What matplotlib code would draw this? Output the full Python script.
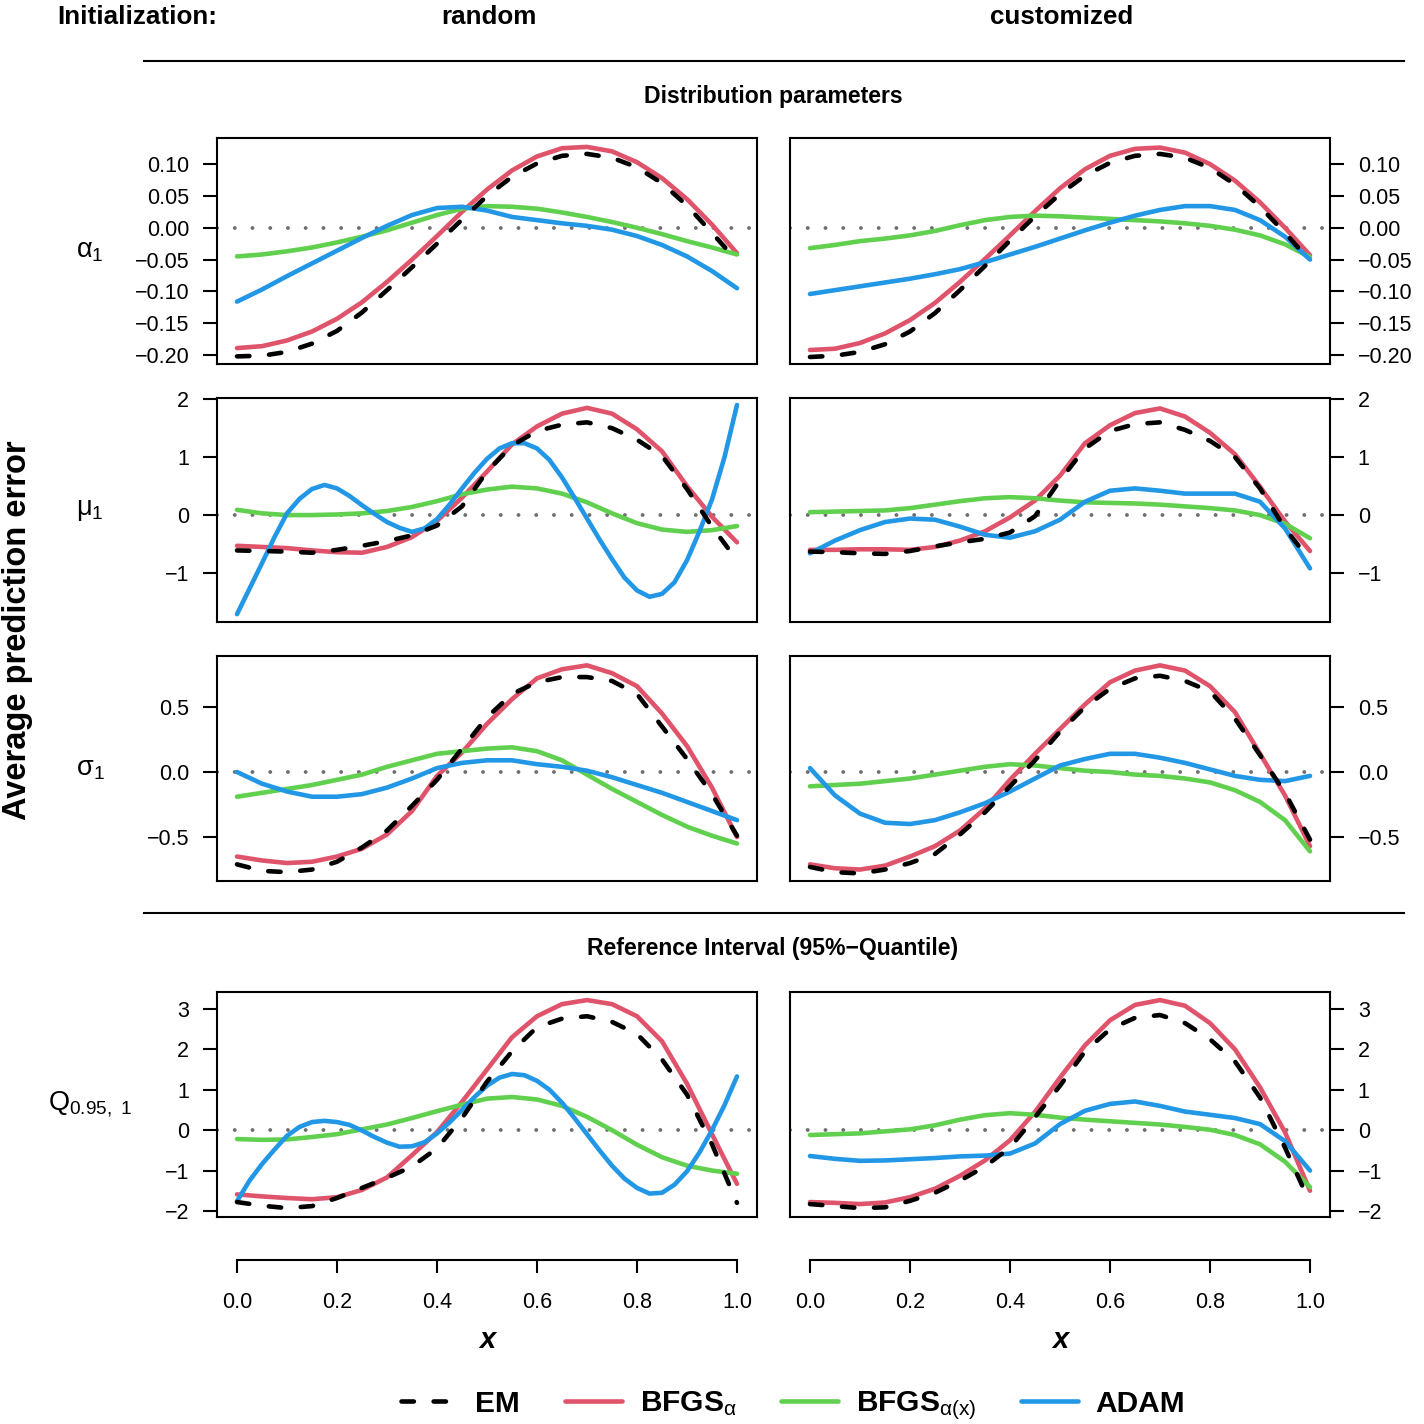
import numpy as np
import matplotlib
matplotlib.use('Agg')
import matplotlib.pyplot as plt
from matplotlib.lines import Line2D

plt.rcParams['font.family'] = ['Liberation Sans', 'DejaVu Sans']
plt.rcParams['mathtext.fontset'] = 'custom'
plt.rcParams['mathtext.rm'] = 'Liberation Sans'
plt.rcParams['mathtext.it'] = 'Liberation Sans:italic'
plt.rcParams['mathtext.bf'] = 'Liberation Sans:bold'

x_vals = [0.0, 0.05, 0.1, 0.15, 0.2, 0.25, 0.3, 0.35, 0.4, 0.45, 0.5,
          0.55, 0.6, 0.65, 0.7, 0.75, 0.8, 0.85, 0.9, 0.95, 1.0]
# finer grid used for the strongly oscillating ADAM curves
x_fine = [0.0, 0.025, 0.05, 0.075, 0.1, 0.125, 0.15, 0.175, 0.2, 0.225, 0.25,
          0.275, 0.3, 0.325, 0.35, 0.375, 0.4, 0.425, 0.45, 0.475, 0.5,
          0.525, 0.55, 0.575, 0.6, 0.625, 0.65, 0.675, 0.7, 0.725, 0.75,
          0.775, 0.8, 0.825, 0.85, 0.875, 0.9, 0.925, 0.95, 0.975, 1.0]

methods = ['EM', 'BFGS_a', 'BFGS_ax', 'ADAM']
legend_labels = ['EM', r'BFGS$_{\mathrm{\alpha}}$', r'BFGS$_{\mathrm{\alpha(x)}}$', 'ADAM']
colors = {'EM': 'black', 'BFGS_a': '#DF536B', 'BFGS_ax': '#61D04F', 'ADAM': '#2297E6'}

# --- alpha_1 ---
alpha_rand = {
    'EM': [-0.202, -0.201, -0.195, -0.182, -0.162, -0.133, -0.098, -0.062, -0.025, 0.013, 0.05,
           0.08, 0.101, 0.113, 0.116, 0.11, 0.095, 0.07, 0.035, -0.008, -0.052],
    'BFGS_a': [-0.189, -0.186, -0.177, -0.163, -0.143, -0.117, -0.085, -0.05, -0.013, 0.025, 0.06,
               0.09, 0.112, 0.125, 0.127, 0.12, 0.103, 0.078, 0.045, 0.005, -0.04],
    'BFGS_ax': [-0.045, -0.042, -0.037, -0.031, -0.023, -0.014, -0.004, 0.008, 0.02, 0.03, 0.034,
                0.033, 0.03, 0.024, 0.017, 0.009, 0.0, -0.01, -0.021, -0.031, -0.042],
    'ADAM': [-0.116, -0.097, -0.076, -0.056, -0.036, -0.016, 0.003, 0.02, 0.031, 0.033, 0.027,
             0.017, 0.012, 0.007, 0.003, -0.003, -0.013, -0.027, -0.045, -0.068, -0.095],
}
alpha_cust = {
    'EM': [-0.203, -0.201, -0.195, -0.183, -0.163, -0.134, -0.098, -0.06, -0.02, 0.018, 0.053,
           0.082, 0.102, 0.113, 0.116, 0.11, 0.094, 0.068, 0.033, -0.008, -0.052],
    'BFGS_a': [-0.192, -0.19, -0.181, -0.166, -0.145, -0.118, -0.085, -0.049, -0.012, 0.026, 0.062,
               0.092, 0.113, 0.124, 0.126, 0.118, 0.1, 0.074, 0.04, 0.0, -0.043],
    'BFGS_ax': [-0.032, -0.027, -0.021, -0.017, -0.012, -0.005, 0.004, 0.012, 0.017, 0.019, 0.018,
                0.016, 0.014, 0.012, 0.01, 0.007, 0.003, -0.003, -0.012, -0.026, -0.046],
    'ADAM': [-0.104, -0.098, -0.092, -0.086, -0.08, -0.073, -0.065, -0.054, -0.042, -0.03, -0.017,
             -0.004, 0.008, 0.019, 0.028, 0.034, 0.034, 0.028, 0.012, -0.014, -0.05],
}

# --- mu_1 ---
mu_rand = {
    'EM': [-0.61, -0.62, -0.63, -0.65, -0.6, -0.53, -0.45, -0.35, -0.18, 0.15, 0.75,
           1.2, 1.45, 1.56, 1.6, 1.5, 1.3, 1.02, 0.45, -0.2, -0.78],
    'BFGS_a': [-0.53, -0.55, -0.57, -0.61, -0.64, -0.65, -0.55, -0.38, -0.1, 0.3, 0.75,
               1.22, 1.53, 1.75, 1.85, 1.75, 1.48, 1.1, 0.5, -0.03, -0.47],
    'BFGS_ax': [0.09, 0.03, 0.0, 0.0, 0.01, 0.03, 0.07, 0.14, 0.24, 0.36, 0.44,
                0.49, 0.46, 0.37, 0.22, 0.03, -0.14, -0.25, -0.29, -0.26, -0.19],
    'ADAM': [-1.71, -1.27, -0.83, -0.38, 0.03, 0.28, 0.45, 0.52, 0.46, 0.33, 0.17,
             0.02, -0.12, -0.22, -0.29, -0.23, -0.07, 0.18, 0.46, 0.73, 0.97,
             1.15, 1.24, 1.24, 1.15, 0.95, 0.65, 0.3, -0.06, -0.42, -0.76,
             -1.08, -1.3, -1.41, -1.36, -1.16, -0.78, -0.28, 0.27, 1.0, 1.9],
}
mu_cust = {
    'EM': [-0.63, -0.64, -0.66, -0.67, -0.62, -0.54, -0.47, -0.41, -0.3, -0.02, 0.6,
           1.15, 1.45, 1.57, 1.6, 1.47, 1.28, 1.0, 0.46, -0.23, -0.78],
    'BFGS_a': [-0.6, -0.6, -0.59, -0.59, -0.6, -0.55, -0.44, -0.28, -0.04, 0.25, 0.68,
               1.24, 1.55, 1.76, 1.84, 1.7, 1.42, 1.05, 0.49, -0.11, -0.62],
    'BFGS_ax': [0.05, 0.06, 0.07, 0.08, 0.12, 0.18, 0.24, 0.29, 0.31, 0.29, 0.25,
                0.22, 0.21, 0.2, 0.18, 0.15, 0.12, 0.08, 0.0, -0.15, -0.4],
    'ADAM': [-0.66, -0.44, -0.26, -0.12, -0.06, -0.08, -0.2, -0.34, -0.39, -0.28, -0.08,
             0.23, 0.42, 0.46, 0.42, 0.37, 0.37, 0.37, 0.23, -0.23, -0.92],
}

# --- sigma_1 ---
sigma_rand = {
    'EM': [-0.71, -0.76, -0.77, -0.75, -0.69, -0.58, -0.45, -0.26, -0.06, 0.18, 0.42,
           0.6, 0.69, 0.73, 0.73, 0.7, 0.6, 0.35, 0.1, -0.17, -0.49],
    'BFGS_a': [-0.65, -0.68, -0.7, -0.69, -0.65, -0.59, -0.48, -0.3, -0.03, 0.15, 0.37,
               0.56, 0.72, 0.79, 0.82, 0.76, 0.66, 0.45, 0.2, -0.12, -0.5],
    'BFGS_ax': [-0.19, -0.16, -0.13, -0.1, -0.06, -0.02, 0.04, 0.09, 0.14, 0.16, 0.18,
                0.19, 0.16, 0.09, -0.02, -0.13, -0.23, -0.33, -0.42, -0.49, -0.55],
    'ADAM': [0.0, -0.09, -0.15, -0.19, -0.19, -0.17, -0.12, -0.05, 0.03, 0.07, 0.09,
             0.09, 0.06, 0.04, 0.01, -0.04, -0.1, -0.16, -0.23, -0.3, -0.37],
}
sigma_cust = {
    'EM': [-0.73, -0.77, -0.78, -0.75, -0.7, -0.63, -0.48, -0.31, -0.11, 0.09, 0.31,
           0.5, 0.64, 0.72, 0.74, 0.7, 0.62, 0.41, 0.13, -0.16, -0.52],
    'BFGS_a': [-0.71, -0.74, -0.75, -0.72, -0.65, -0.57, -0.45, -0.28, -0.06, 0.14, 0.33,
               0.52, 0.69, 0.78, 0.82, 0.78, 0.66, 0.46, 0.14, -0.18, -0.57],
    'BFGS_ax': [-0.11, -0.1, -0.09, -0.07, -0.05, -0.02, 0.01, 0.04, 0.06, 0.05, 0.03,
                0.01, 0.0, -0.02, -0.03, -0.05, -0.08, -0.14, -0.23, -0.37, -0.61],
    'ADAM': [0.03, -0.18, -0.32, -0.39, -0.4, -0.37, -0.31, -0.24, -0.15, -0.05, 0.05,
             0.1, 0.14, 0.14, 0.11, 0.07, 0.02, -0.03, -0.06, -0.07, -0.03],
}

# --- Q_0.95,1 ---
q_rand = {
    'EM': [-1.78, -1.87, -1.93, -1.88, -1.68, -1.43, -1.18, -0.9, -0.45, 0.3, 1.2,
           1.95, 2.55, 2.76, 2.82, 2.68, 2.38, 1.75, 0.88, -0.35, -1.8],
    'BFGS_a': [-1.59, -1.64, -1.68, -1.71, -1.66, -1.48, -1.17, -0.62, -0.05, 0.7, 1.5,
               2.3, 2.82, 3.12, 3.22, 3.12, 2.82, 2.2, 1.15, -0.1, -1.33],
    'BFGS_ax': [-0.22, -0.24, -0.23, -0.17, -0.1, 0.02, 0.14, 0.3, 0.47, 0.63, 0.78,
                0.82, 0.76, 0.6, 0.33, 0.0, -0.36, -0.67, -0.88, -1.0, -1.08],
    'ADAM': [-1.76, -1.25, -0.84, -0.48, -0.14, 0.08, 0.2, 0.23, 0.2, 0.13, -0.01,
             -0.17, -0.31, -0.41, -0.4, -0.3, -0.08, 0.19, 0.5, 0.82, 1.1,
             1.3, 1.39, 1.36, 1.22, 1.0, 0.68, 0.3, -0.1, -0.5, -0.88,
             -1.2, -1.43, -1.57, -1.55, -1.35, -1.02, -0.55, 0.0, 0.62, 1.33],
}
q_cust = {
    'EM': [-1.83, -1.88, -1.93, -1.91, -1.75, -1.55, -1.25, -0.9, -0.43, 0.32, 1.1,
           1.95, 2.5, 2.78, 2.85, 2.65, 2.25, 1.7, 0.81, -0.43, -1.8],
    'BFGS_a': [-1.78, -1.8, -1.83, -1.79, -1.66, -1.45, -1.13, -0.75, -0.25, 0.45, 1.3,
               2.1, 2.72, 3.1, 3.22, 3.08, 2.65, 2.0, 1.06, -0.05, -1.5],
    'BFGS_ax': [-0.12, -0.1, -0.08, -0.03, 0.02, 0.12, 0.26, 0.37, 0.42, 0.38, 0.31,
                0.26, 0.22, 0.18, 0.14, 0.08, 0.01, -0.12, -0.35, -0.78, -1.41],
    'ADAM': [-0.64, -0.71, -0.76, -0.75, -0.72, -0.69, -0.65, -0.63, -0.58, -0.33, 0.15,
             0.48, 0.65, 0.71, 0.6, 0.46, 0.38, 0.3, 0.15, -0.27, -1.0],
}

row_data = [(alpha_rand, alpha_cust), (mu_rand, mu_cust),
            (sigma_rand, sigma_cust), (q_rand, q_cust)]
row_labels = [r'$\mathrm{\alpha}_1$', r'$\mathrm{\mu}_1$', r'$\mathrm{\sigma}_1$',
              r'$\mathrm{Q}_{0.95,\ 1}$']
row_ticks = [[-0.20, -0.15, -0.10, -0.05, 0.00, 0.05, 0.10],
             [-1, 0, 1, 2],
             [-0.5, 0.0, 0.5],
             [-2, -1, 0, 1, 2, 3]]
row_ticklabels = [['−0.20', '−0.15', '−0.10', '−0.05', '0.00', '0.05', '0.10'],
                  ['−1', '0', '1', '2'],
                  ['−0.5', '0.0', '0.5'],
                  ['−2', '−1', '0', '1', '2', '3']]
row_ylims = [(-0.214, 0.141), (-1.845, 2.02), (-0.838, 0.892), (-2.15, 3.42)]
x_ticks = [0.0, 0.2, 0.4, 0.6, 0.8, 1.0]
x_ticklabels = ['0.0', '0.2', '0.4', '0.6', '0.8', '1.0']

W = 1424.0
fig = plt.figure(figsize=(14.24, 14.24), dpi=100)


def px_axes(x0, y0, x1, y1):
    return fig.add_axes([x0 / W, 1 - y1 / W, (x1 - x0) / W, (y1 - y0) / W])


col_px = [(217, 757), (790, 1330)]
row_px = [(138, 364), (398, 622), (656, 881), (992, 1217)]
tick_fs = 15.5
LW = 3.3
EM_DASH = (2.7, 4.3)
draw_order = ['BFGS_a', 'BFGS_ax', 'ADAM', 'EM']

for r, (y0, y1) in enumerate(row_px):
    for c, (x0, x1) in enumerate(col_px):
        ax = px_axes(x0, y0, x1, y1)
        data = row_data[r][c]
        ax.axhline(0, color='#6e6e6e', lw=2.8, dashes=(0.01, 4.55),
                   dash_capstyle='round', zorder=1)
        for m in draw_order:
            yv = data[m]
            xv = x_fine if len(yv) == len(x_fine) else x_vals
            if m == 'EM':
                ax.plot(xv, yv, color='black', lw=LW, dashes=EM_DASH,
                        dash_capstyle='round', zorder=4)
            else:
                ax.plot(xv, yv, color=colors[m], lw=LW,
                        solid_capstyle='round', solid_joinstyle='round', zorder=3)
        ax.set_xlim(-0.04, 1.04)
        ax.set_ylim(*row_ylims[r])
        ax.set_xticks([])
        ax.set_yticks(row_ticks[r])
        ax.set_yticklabels(row_ticklabels[r], fontsize=tick_fs)
        if c == 1:
            ax.yaxis.tick_right()
        ax.tick_params(axis='y', length=10, width=1.5, pad=10)
        for s in ax.spines.values():
            s.set_linewidth(1.5)
    fig.text(90 / W, 1 - (row_px[r][0] + row_px[r][1]) / 2 / W, row_labels[r],
             fontsize=19.5, ha='center', va='center')

# separate x axes below the panels
for c, (x0, x1) in enumerate(col_px):
    bx = px_axes(x0, 1250, x1, 1260)
    bx.set_xlim(-0.04, 1.04)
    bx.set_yticks([])
    for side in ['top', 'left', 'right']:
        bx.spines[side].set_visible(False)
    bx.spines['bottom'].set_bounds(0, 1)
    bx.spines['bottom'].set_linewidth(1.5)
    bx.patch.set_visible(False)
    bx.set_xticks(x_ticks)
    bx.set_xticklabels(x_ticklabels, fontsize=tick_fs)
    bx.tick_params(axis='x', length=9, width=1.5, pad=14)
    fig.text((x0 + x1) / 2 / W, 1 - 1340 / W, 'x', fontsize=21, fontweight='bold',
             fontstyle='italic', ha='center', va='center')

# headers
fig.text(57 / W, 1 - 17 / W, 'Initialization:', fontsize=18.7, fontweight='bold',
         ha='left', va='center')
fig.text(489 / W, 1 - 17 / W, 'random', fontsize=18.7, fontweight='bold',
         ha='center', va='center')
fig.text(1062 / W, 1 - 17 / W, 'customized', fontsize=18.7, fontweight='bold',
         ha='center', va='center')
fig.add_artist(Line2D([144 / W, 1404 / W], [1 - 61 / W, 1 - 61 / W], color='black', lw=1.5))
fig.add_artist(Line2D([144 / W, 1404 / W], [1 - 913 / W, 1 - 913 / W], color='black', lw=1.5))
fig.text(773 / W, 1 - 96 / W, 'Distribution parameters', fontsize=16.6, fontweight='bold',
         ha='center', va='center')
fig.text(773 / W, 1 - 949 / W, 'Reference Interval (95%−Quantile)', fontsize=16.6,
         fontweight='bold', ha='center', va='center')
fig.text(18 / W, 1 - 630 / W, 'Average prediction error', fontsize=23.5, fontweight='bold',
         rotation=90, ha='center', va='center')

# legend
handles = []
for m in methods:
    if m == 'EM':
        handles.append(Line2D([], [], color='black', lw=LW, dashes=EM_DASH,
                              dash_capstyle='round'))
    else:
        handles.append(Line2D([], [], color=colors[m], lw=LW, solid_capstyle='round'))
fig.legend(handles, legend_labels, loc='center', bbox_to_anchor=(793 / W, 1 - 1406 / W),
           ncol=4, frameon=False, prop={'weight': 'bold', 'size': 21.5},
           handlelength=1.9, handletextpad=0.6, columnspacing=1.5)

fig.savefig('out.png', dpi=100)
